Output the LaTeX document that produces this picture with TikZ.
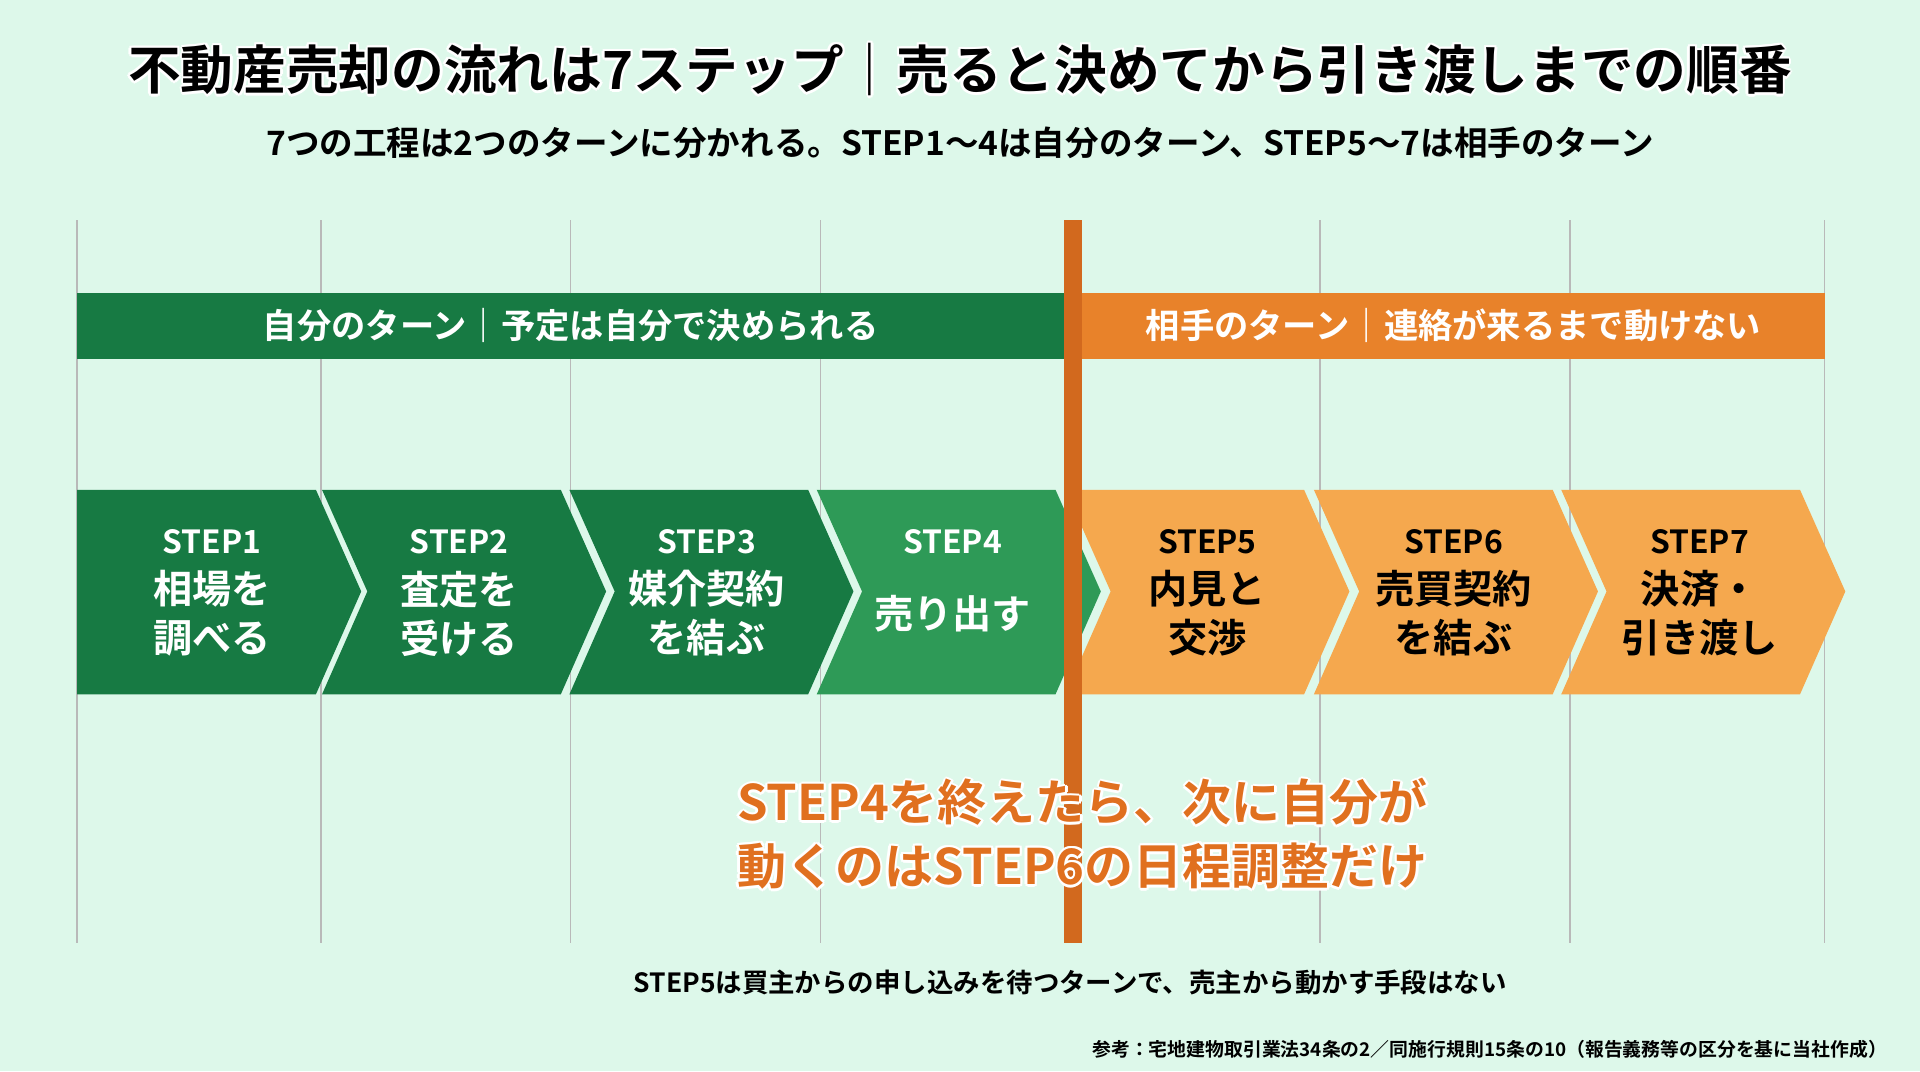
\documentclass[tikz,border=0pt]{standalone}
\usepackage{fontspec}
\setmainfont{Noto Sans CJK JP}[BoldFont={Noto Sans CJK JP Bold}]
\definecolor{bgmint}{HTML}{DDF8EA}
\definecolor{darkgrn}{HTML}{177A43}
\definecolor{midgrn}{HTML}{2E9A57}
\definecolor{bandorg}{HTML}{E8822A}
\definecolor{steporg}{HTML}{F5A84E}
\definecolor{lineorg}{HTML}{D2691E}
\definecolor{calloutorg}{HTML}{E0701F}
\tikzset{
  gridline/.style={gray!55, line width=0.6pt},
  bandtext/.style={white, font=\bfseries\fontsize{14}{16}\selectfont},
  steplabel/.style={align=center, font=\bfseries\fontsize{16}{20}\selectfont},
  stepnum/.style={font=\bfseries\fontsize{13}{15}\selectfont},
  titlefont/.style={font=\bfseries\fontsize{21.5}{24}\selectfont},
  calloutfont/.style={align=center, font=\bfseries\fontsize{20}{26}\selectfont},
}
\newcommand{\haloed}[4]{% style, position, colour, text
  \foreach \hx/\hy in {-2/0,2/0,0/-2,0/2,-1.5/-1.5,1.5/1.5,-1.5/1.5,1.5/-1.5}
    \node[#1, white] at ($(#2)+(\hx,\hy)$) {#4};
  \node[#1, #3] at (#2) {#4};
}
\usetikzlibrary{calc}
\begin{document}
\begin{tikzpicture}[x=0.5pt, y=-0.5pt]
\useasboundingbox (0,0) rectangle (1568,875);
\fill[bgmint] (0,0) rectangle (1568,875);
% titles
\coordinate (title) at (784,57);
\haloed{titlefont}{title}{black}{不動産売却の流れは7ステップ｜売ると決めてから引き渡しまでの順番}
\node[font=\bfseries\fontsize{13.7}{16}\selectfont] (subtitle) at (784,117)
  {7つの工程は2つのターンに分かれる。STEP1〜4は自分のターン、STEP5〜7は相手のターン};
% grid
\foreach \gx in {63,262,466,670,870,1078,1282,1490}
  \draw[gridline] (\gx,180) -- (\gx,770);
% turn bands
\fill[darkgrn] (63,239) rectangle (870,293);
\fill[bandorg] (870,239) rectangle (1490,293);
\node[bandtext] (ownturn) at (466,266) {自分のターン｜予定は自分で決められる};
\node[bandtext] (otherturn) at (1187,266) {相手のターン｜連絡が来るまで動けない};
% chevrons
\foreach \sx/\col/\notch in {63/darkgrn/0,263/darkgrn/37,465/darkgrn/37,667/midgrn/37,
                              870/steporg/37,1073/steporg/37,1275/steporg/37}
  \fill[\col] (\sx,400) -- (\sx+195,400) -- (\sx+232,483) -- (\sx+195,567)
    -- (\sx,567) -- (\sx+\notch,483) -- cycle;
\node[stepnum, white] (s1) at (173,442) {STEP1};
\node[steplabel, white] (t1) at (173,501) {相場を\\調べる};
\node[stepnum, white] (s2) at (375,442) {STEP2};
\node[steplabel, white] (t2) at (375,501) {査定を\\受ける};
\node[stepnum, white] (s3) at (577,442) {STEP3};
\node[steplabel, white] (t3) at (577,501) {媒介契約\\を結ぶ};
\node[stepnum, white] (s4) at (778,442) {STEP4};
\node[steplabel, white] (t4) at (778,501) {売り出す};
\node[stepnum] (s5) at (986,442) {STEP5};
\node[steplabel] (t5) at (986,501) {内見と\\交渉};
\node[stepnum] (s6) at (1187,442) {STEP6};
\node[steplabel] (t6) at (1187,501) {売買契約\\を結ぶ};
\node[stepnum] (s7) at (1388,442) {STEP7};
\node[steplabel] (t7) at (1388,501) {決済・\\引き渡し};
% boundary line
\fill[lineorg] (869,180) rectangle (884,770);
% callout
\coordinate (callout) at (884,681);
\haloed{calloutfont}{callout}{calloutorg}{STEP4を終えたら、次に自分が\\動くのはSTEP6の日程調整だけ}
% notes
\node[font=\bfseries\fontsize{10.8}{12}\selectfont] (note) at (874,802)
  {STEP5は買主からの申し込みを待つターンで、売主から動かす手段はない};
\node[anchor=east, font=\bfseries\fontsize{7.7}{9}\selectfont] (source) at (1548,857)
  {参考：宅地建物取引業法34条の2／同施行規則15条の10（報告義務等の区分を基に当社作成）};
\end{tikzpicture}
\end{document}
